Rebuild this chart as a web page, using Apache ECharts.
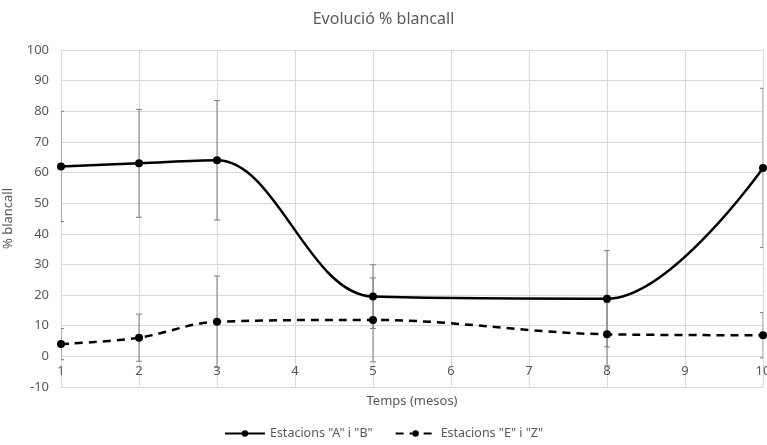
<!DOCTYPE html>
<html>
<head>
<meta charset="utf-8">
<script src="https://cdn.jsdelivr.net/npm/echarts@6/dist/echarts.min.js"></script>
<style>
  html, body { margin: 0; padding: 0; background: #fff; }
  #chart { width: 767px; height: 445px; }
</style>
</head>
<body>
<div id="chart"></div>
<script>
// mesos mesurats
const months = [1, 2, 3, 5, 8, 10]
// Estacions "A" i "B"
const abMean = [62, 63, 64, 19.5, 18.8, 61.5]
const abErr = [18, 17.6, 19.5, 10.4, 15.7, 26]
// Estacions "E" i "Z"
const ezMean = [4, 6.1, 11.3, 11.9, 7.2, 6.9]
const ezErr = [5.1, 7.7, 14.9, 13.7, 10.3, 7.4]

const yMin = -10
const yMax = 100

const labelColor = '#595959'
const gridColor = '#d9d9d9'
const font = 'Noto Sans'

const toPoints = (mean) => months.map((m, i) => [m, mean[i]])
const toBars = (mean, err) => months.map((m, i) => [m, mean[i] - err[i], mean[i] + err[i]])

const errorBars = (data) => ({
  type: 'custom',
  clip: true,
  z: 1,
  silent: true,
  data,
  renderItem: (params, api) => {
    const lo = api.coord([api.value(0), api.value(1)])
    const hi = api.coord([api.value(0), api.value(2)])
    const w = 3
    const style = { stroke: '#7f7f7f', lineWidth: 1 }
    return {
      type: 'group',
      children: [
        { type: 'line', shape: { x1: lo[0], y1: lo[1], x2: hi[0], y2: hi[1] }, style },
        { type: 'line', shape: { x1: lo[0] - w, y1: lo[1], x2: lo[0] + w, y2: lo[1] }, style },
        { type: 'line', shape: { x1: hi[0] - w, y1: hi[1], x2: hi[0] + w, y2: hi[1] }, style }
      ]
    }
  }
})

const chart = echarts.init(document.getElementById('chart'))
chart.setOption({
  animation: false,
  title: {
    text: 'Evolució % blancall',
    left: 'center',
    top: 6,
    textStyle: { color: labelColor, fontWeight: 'normal', fontSize: 16, fontFamily: font }
  },
  grid: { left: 61, right: 4, top: 50, bottom: 58, outerBoundsMode: 'none' },
  xAxis: {
    type: 'value',
    min: 1,
    max: 10,
    interval: 1,
    name: 'Temps (mesos)',
    nameLocation: 'middle',
    nameGap: 8,
    nameTextStyle: { color: labelColor, fontSize: 13, fontFamily: font },
    axisLine: { onZero: false, lineStyle: { color: gridColor } },
    axisTick: { show: false },
    // labels drawn on the 0 line, as Excel does
    axisLabel: { color: labelColor, fontSize: 13, fontFamily: font, margin: -22 },
    splitLine: { show: true, lineStyle: { color: gridColor } }
  },
  yAxis: {
    type: 'value',
    min: yMin,
    max: yMax,
    interval: 10,
    name: '% blancall',
    nameLocation: 'middle',
    nameGap: 46,
    nameMoveOverlap: false,
    nameTextStyle: { color: labelColor, fontSize: 13, fontFamily: font },
    axisLine: { show: false },
    axisTick: { show: false },
    axisLabel: { color: labelColor, fontSize: 13, fontFamily: font, margin: 12 },
    splitLine: { lineStyle: { color: gridColor } }
  },
  legend: {
    bottom: 0,
    left: 'center',
    itemWidth: 40,
    itemHeight: 8,
    itemGap: 22,
    data: ['Estacions "A" i "B"', 'Estacions "E" i "Z"'],
    textStyle: { color: labelColor, fontSize: 12.5, fontFamily: font }
  },
  series: [
    errorBars(toBars(abMean, abErr)),
    errorBars(toBars(ezMean, ezErr)),
    {
      name: 'Estacions "A" i "B"',
      type: 'line',
      z: 3,
      smooth: 0.35,
      data: toPoints(abMean),
      symbol: 'circle',
      symbolSize: 8,
      itemStyle: { color: '#000' },
      lineStyle: { color: '#000', width: 2.5 }
    },
    {
      name: 'Estacions "E" i "Z"',
      type: 'line',
      z: 3,
      smooth: 0.35,
      data: toPoints(ezMean),
      symbol: 'circle',
      symbolSize: 8,
      itemStyle: { color: '#000' },
      lineStyle: { color: '#000', width: 2.5, type: [8, 6] }
    }
  ]
})
</script>
</body>
</html>
